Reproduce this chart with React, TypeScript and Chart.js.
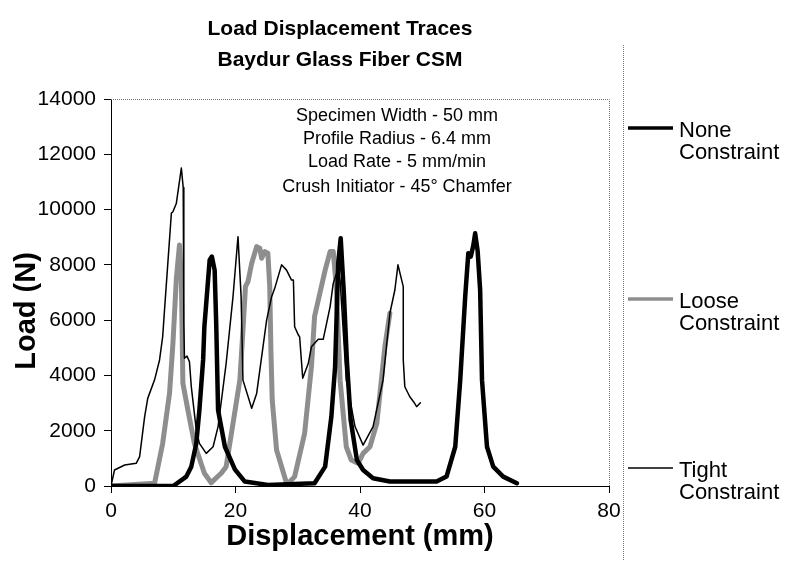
import React, { useEffect, useRef } from "react";
import { Chart, registerables } from "chart.js";

Chart.register(...registerables);

const TITLE_LINES = ["Load Displacement Traces", "Baydur Glass Fiber CSM"];
const X_TITLE = "Displacement (mm)";
const Y_TITLE = "Load (N)";
const NOTE_LINES = [
  "Specimen Width - 50 mm",
  "Profile Radius - 6.4 mm",
  "Load Rate - 5 mm/min",
  "Crush Initiator - 45° Chamfer",
];
const SERIES_NAMES = [["None", "Constraint"], ["Loose", "Constraint"], ["Tight", "Constraint"]];

const noneX = [0, 10, 12.1, 12.9, 13.7, 14.2, 14.8, 15.0, 15.3, 15.85, 16.2, 16.65, 16.9, 17.2, 18.3, 19.9, 21.5, 25.2, 32.7, 34.4, 35.4, 36.0, 36.5, 36.9, 37.4, 37.9, 38.5, 39.5, 40.5, 42.1, 44.8, 52.3, 53.9, 55.3, 56.1, 56.9, 57.4, 57.8, 58.2, 58.5, 58.9, 59.3, 59.6, 60.4, 61.4, 63.0, 65.2];
const noneY = [0, 0, 340, 700, 1540, 2750, 4560, 5760, 6610, 8180, 8300, 7810, 5890, 2750, 1420, 600, 160, 40, 100, 700, 2510, 4320, 8060, 8960, 7000, 4500, 2390, 940, 580, 280, 160, 160, 340, 1420, 3830, 6850, 8420, 8300, 8700, 9140, 8500, 7090, 3830, 1420, 700, 340, 100];

const looseX = [0, 7.0, 8.3, 9.4, 9.95, 10.5, 11.0, 11.3, 11.55, 12.35, 13.4, 15.0, 16.1, 17.7, 18.5, 20.7, 21.2, 21.6, 22.0, 22.6, 23.4, 23.9, 24.2, 24.7, 25.2, 25.5, 25.7, 25.9, 26.6, 28.2, 28.4, 29.5, 31.1, 32.2, 32.7, 34.4, 35.2, 35.7, 36.2, 36.8, 37.8, 38.6, 39.7, 40.5, 41.6, 42.7, 44.0, 44.8];
const looseY = [0, 100, 1540, 3350, 5160, 7500, 8720, 7500, 3720, 2750, 1540, 460, 120, 460, 700, 3830, 5640, 7210, 7390, 8060, 8660, 8600, 8240, 8480, 8420, 7210, 4800, 3110, 1300, 100, 80, 340, 1900, 4320, 6130, 7810, 8480, 8480, 7210, 3830, 1420, 940, 820, 1180, 1420, 2270, 5040, 6250];

const tightX = [0, 0.56, 2.2, 4.05, 4.6, 5.4, 5.9, 7.0, 7.8, 8.3, 8.6, 9.7, 9.95, 10.5, 11.3, 11.6, 11.7, 11.8, 12.2, 12.6, 12.9, 13.7, 14.2, 15.3, 16.4, 17.2, 18.5, 19.6, 20.4, 20.9, 21.2, 22.6, 23.4, 25.0, 25.8, 26.3, 27.4, 28.2, 29.0, 29.3, 29.5, 30.1, 30.3, 30.8, 31.7, 32.2, 33.3, 34.1, 35.2, 35.7, 36.5, 36.8, 37.8, 39.2, 40.5, 42.1, 43.7, 44.8, 45.6, 46.1, 46.95, 46.95, 47.2, 48.0, 48.6, 49.1, 49.7];
const tightY = [0, 580, 760, 820, 1060, 2500, 3170, 3840, 4560, 5400, 6370, 9870, 9920, 10230, 11500, 10800, 5900, 4620, 4700, 4500, 3590, 2030, 1540, 1180, 1420, 2150, 4440, 6850, 9020, 6850, 3830, 2810, 3350, 6000, 6850, 7150, 8000, 7810, 7450, 7450, 5760, 5460, 5400, 3900, 4440, 5040, 5310, 5310, 6490, 7330, 7880, 7450, 3830, 2150, 1480, 2150, 3830, 6250, 7090, 8000, 7210, 4560, 3590, 3230, 3050, 2870, 3010];

const X_TICKS = [0, 20, 40, 60, 80];
const Y_TICKS = [0, 2000, 4000, 6000, 8000, 10000, 12000, 14000];

const COLORS = ["#000000", "#8e8e8e", "#000000"];
const WIDTHS = [4.5, 5, 1.5];
const LEGEND_WIDTHS = [3.5, 3.5, 1.6];

const FONT = "'Liberation Sans', Arial, Helvetica, sans-serif";

function pts(xs: number[], ys: number[]) {
  return xs.map((x, i) => ({ x, y: ys[i] }));
}

const decorPlugin = {
  id: "decor",
  afterDraw(chart: any) {
    const ctx = chart.ctx as CanvasRenderingContext2D;
    const a = chart.chartArea;
    ctx.save();
    ctx.strokeStyle = "#777";
    ctx.lineWidth = 1;
    ctx.setLineDash([1, 1]);
    ctx.beginPath();
    ctx.moveTo(a.left, a.top + 0.5);
    ctx.lineTo(a.right + 0.5, a.top + 0.5);
    ctx.lineTo(a.right + 0.5, a.bottom);
    ctx.stroke();
    ctx.beginPath();
    ctx.moveTo(623.5, 45);
    ctx.lineTo(623.5, 561);
    ctx.stroke();
    ctx.setLineDash([]);

    ctx.fillStyle = "#000";
    ctx.font = `bold 21px ${FONT}`;
    ctx.textAlign = "center";
    ctx.textBaseline = "middle";
    ctx.fillText(TITLE_LINES[0], 340, 29);
    ctx.fillText(TITLE_LINES[1], 340, 60);
    ctx.font = `bold 29px ${FONT}`;
    ctx.fillText(X_TITLE, 360, 537);
    ctx.save();
    ctx.translate(27, 311);
    ctx.rotate(-Math.PI / 2);
    ctx.fillText(Y_TITLE, 0, 0);
    ctx.restore();
    ctx.font = `18px ${FONT}`;
    const ny = [116, 139, 162, 187];
    NOTE_LINES.forEach((t, i) => ctx.fillText(t, 397, ny[i]));
    const ly = [128, 299, 468];
    ctx.textAlign = "left";
    ctx.font = `22px ${FONT}`;
    SERIES_NAMES.forEach((nm, i) => {
      ctx.strokeStyle = COLORS[i];
      ctx.lineWidth = LEGEND_WIDTHS[i];
      ctx.beginPath();
      ctx.moveTo(628, ly[i]);
      ctx.lineTo(673, ly[i]);
      ctx.stroke();
      ctx.fillText(nm[0], 679, ly[i] + 3);
      ctx.fillText(nm[1], 679, ly[i] + 25);
    });
    ctx.restore();
  },
};

export default function App() {
  const ref = useRef<HTMLCanvasElement>(null);
  useEffect(() => {
    const canvas = ref.current!;
    const chart = new Chart(canvas, {
      type: "scatter",
      data: {
        datasets: [
          { label: "None Constraint", data: pts(noneX, noneY) },
          { label: "Loose Constraint", data: pts(looseX, looseY) },
          { label: "Tight Constraint", data: pts(tightX, tightY) },
        ].map((d, i) => ({
          ...d,
          showLine: true,
          borderColor: COLORS[i],
          backgroundColor: COLORS[i],
          borderWidth: WIDTHS[i],
          pointRadius: 0,
          tension: 0,
          borderJoinStyle: "round" as const,
          borderCapStyle: "round" as const,
          order: i === 2 ? 0 : i === 0 ? 1 : 2,
        })),
      },
      options: {
        responsive: false,
        animation: false,
        layout: { padding: { left: 0, right: 181, top: 99, bottom: 0 } },
        plugins: { legend: { display: false }, tooltip: { enabled: false }, title: { display: false } },
        scales: {
          x: {
            type: "linear",
            min: 0,
            max: 80,
            afterBuildTicks: (s: any) => { s.ticks = X_TICKS.map((v) => ({ value: v })); },
            afterFit: (s: any) => { s.height = 75; },
            grid: { drawOnChartArea: false, drawTicks: true, tickLength: 7, color: "#000" },
            border: { display: true, color: "#000", width: 1 },
            ticks: { color: "#000", font: { family: FONT, size: 21 }, padding: 6, maxRotation: 0 },
          },
          y: {
            type: "linear",
            min: 0,
            max: 14000,
            afterBuildTicks: (s: any) => { s.ticks = Y_TICKS.map((v) => ({ value: v })); },
            afterFit: (s: any) => { s.width = 111; },
            grid: { drawOnChartArea: false, drawTicks: true, tickLength: 7, color: "#000" },
            border: { display: true, color: "#000", width: 1 },
            ticks: { color: "#000", font: { family: FONT, size: 21 }, padding: 8, callback: (v: any) => String(v) },
          },
        },
      },
      plugins: [decorPlugin],
    });
    return () => chart.destroy();
  }, []);
  return (
    <canvas
      ref={ref}
      width={790}
      height={561}
      style={{ position: "absolute", left: 0, top: 0, width: 790, height: 561, background: "#fff" }}
    />
  );
}
